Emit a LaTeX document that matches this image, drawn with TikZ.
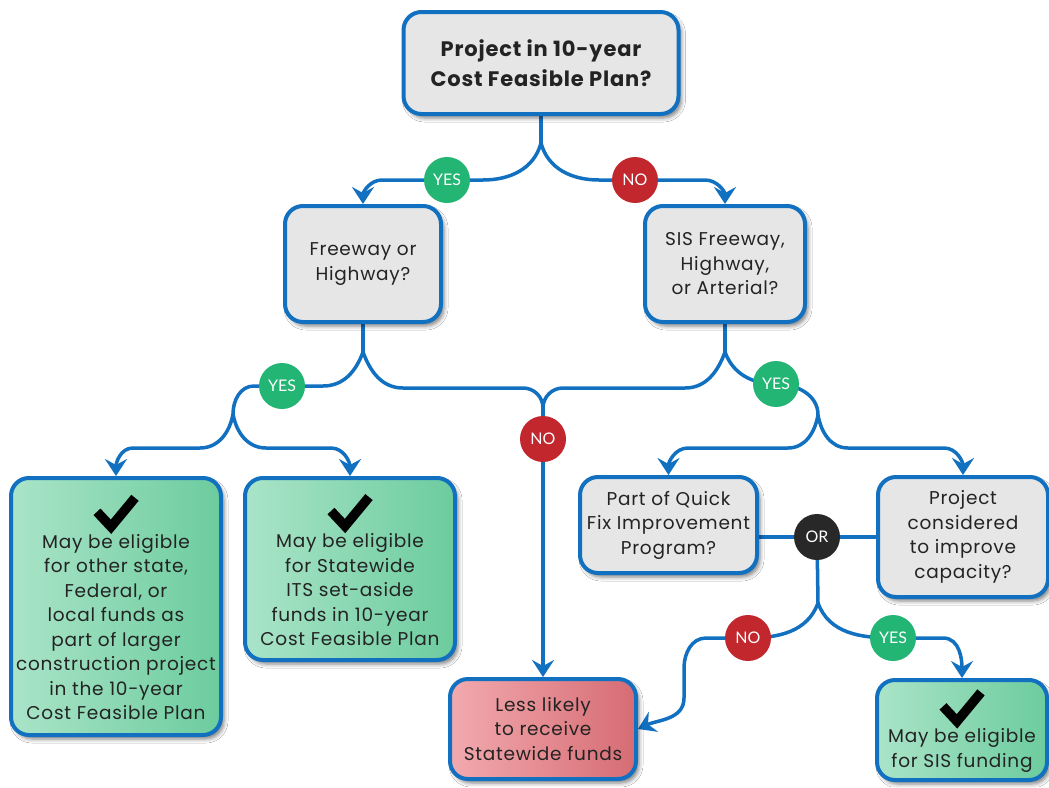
\documentclass[tikz,border=0pt]{standalone}
\usepackage{fontspec}
\setmainfont{Poppins}[LetterSpace=4]
\newfontfamily\tagfont{Lato}
\usetikzlibrary{arrows.meta,shadows.blur}

\definecolor{lineblue}{RGB}{18,112,192}
\definecolor{qgray}{RGB}{230,230,230}
\definecolor{okL}{RGB}{170,228,200}
\definecolor{okR}{RGB}{108,204,158}
\definecolor{noL}{RGB}{242,170,174}
\definecolor{noR}{RGB}{214,108,116}
\definecolor{yesgreen}{RGB}{34,181,115}
\definecolor{nored}{RGB}{193,39,45}
\definecolor{orgray}{RGB}{40,40,40}
\definecolor{ink}{RGB}{35,35,35}

\newcommand\bodyfont{\fontsize{18.5}{24.5}\selectfont}
\newcommand\headfont{\fontsize{21}{30}\selectfont\bfseries}
\newcommand\tick{\tikz[baseline=0pt,x=1pt,y=1pt]\draw[black,sharp corners,line width=9.5pt,line cap=butt,line join=miter] (0,15)--(14,0)--(38,29);}

\pgfdeclarelayer{back}
\pgfsetlayers{back,main}

\tikzset{
  basebox/.style={draw=lineblue, line width=4pt, rounded corners=18pt, align=center,
    font=\bodyfont, text=ink, inner sep=2pt,
    blur shadow={shadow xshift=3pt, shadow yshift=-4pt, shadow blur radius=4pt, shadow opacity=50}},
  qbox/.style={basebox, fill=qgray},
  okbox/.style={basebox, left color=okL, right color=okR},
  nobox/.style={basebox, left color=noL, right color=noR},
  tag/.style={circle, minimum size=46pt, inner sep=0pt, text=white,
    font=\tagfont\fontsize{16}{16}\selectfont},
  yestag/.style={tag, fill=yesgreen},
  notag/.style={tag, fill=nored},
  ortag/.style={tag, fill=orgray},
  conn/.style={draw=lineblue, line width=3.5pt},
  flow/.style={conn, -{Stealth[length=17pt,width=22pt,inset=6pt]}}
}

\begin{document}
\begin{tikzpicture}[x=1pt,y=1pt]
\useasboundingbox (0,0) rectangle (1049,-787);

% question boxes
\node[qbox, font=\headfont, minimum width=275pt, minimum height=102pt] (q0) at (541,-63)
  {Project in 10-year\\Cost Feasible Plan?};
\node[qbox, minimum width=156pt, minimum height=116pt] (fw) at (363,-264)
  {Freeway or\\Highway?};
\node[qbox, minimum width=160pt, minimum height=116pt] (sis) at (725,-264)
  {SIS Freeway,\\Highway,\\or Arterial?};
\node[qbox, minimum width=177pt, minimum height=96pt] (qf) at (668.5,-525)
  {Part of Quick\\Fix Improvement\\Program?};
\node[qbox, minimum width=170pt, minimum height=120pt] (pc) at (963,-537)
  {Project\\considered\\to improve\\capacity?};

% outcome boxes
\node[okbox, minimum width=210pt, minimum height=257pt] (g1) at (116,-606.5)
  {\tick\\[-3pt]May be eligible\\for other state,\\Federal, or\\local funds as\\part of larger\\construction project\\in the 10-year\\Cost Feasible Plan};
\node[okbox, minimum width=210pt, minimum height=182pt] (g2) at (350,-569)
  {\tick\\[-3pt]May be eligible\\for Statewide\\ITS set-aside\\funds in 10-year\\Cost Feasible Plan};
\node[nobox, minimum width=186pt, minimum height=100pt] (pk) at (543,-729)
  {Less likely\\to receive\\Statewide funds};
\node[okbox, minimum width=170pt, minimum height=100pt] (g3) at (962,-730)
  {\tick\\[-3pt]May be eligible\\for SIS funding};

% answer tags
\node[yestag] (y1) at (447,-180) {YES};
\node[notag]  (n1) at (635,-180) {NO};
\node[yestag] (y2) at (282,-386) {YES};
\node[notag]  (n2) at (543,-439) {NO};
\node[yestag] (y3) at (776,-384) {YES};
\node[ortag]  (orn) at (817,-537) {OR};
\node[notag]  (n3) at (748,-638) {NO};
\node[yestag] (y4) at (893,-638) {YES};

% branch points
\coordinate (j0) at (541,-143);
\coordinate (j1) at (363,-352);
\coordinate (j2) at (543,-408);
\coordinate (j3) at (725,-352);
\coordinate (s1) at (233,-414);
\coordinate (s2) at (818,-415);
\coordinate (s3) at (818,-603);

\begin{pgfonlayer}{back}
  \fill[white] (0,0) rectangle (1049,-787);
  % top decision
  \draw[conn] (q0.south) -- (j0);
  \draw[flow] (j0) to[out=-105,in=0] (483,-180) -- (y1.center) -- (382,-180)
    to[out=180,in=90] (fw.north);
  \draw[flow] (j0) to[out=-75,in=180] (599,-180) -- (n1.center) -- (705,-180)
    to[out=0,in=90] (sis.north);

  % freeway / highway
  \draw[conn] (fw.south) -- (j1);
  \draw[conn] (j1) to[out=-110,in=0] (323,-386) -- (y2.center) -- (254,-386)
    to[out=180,in=90] (s1);
  \draw[flow] (s1) to[out=-100,in=0] (200,-448) -- (133,-448) to[out=180,in=90] (g1.north);
  \draw[flow] (s1) to[out=-80,in=180] (266,-448) -- (331,-448) to[out=0,in=90] (g2.north);
  \draw[conn] (j1) to[out=-70,in=180] (403,-388) -- (523,-388) to[out=0,in=90] (j2);

  % SIS freeway / highway / arterial
  \draw[conn] (sis.south) -- (j3);
  \draw[conn] (j3) to[out=-110,in=0] (685,-388) -- (563,-388) to[out=180,in=90] (j2);
  \draw[flow] (j2) -- (n2.center) -- (pk.north);
  \draw[conn] (j3) to[out=-70,in=180] (y3.center) to[out=0,in=90] (s2);
  \draw[flow] (s2) to[out=-100,in=0] (788,-448) -- (688,-448) to[out=180,in=90] (qf.north);
  \draw[flow] (s2) to[out=-80,in=180] (848,-448) -- (944,-448) to[out=0,in=90] (pc.north);

  % either condition
  \draw[conn] (qf.east |- orn) -- (orn.center) -- (pc.west);
  \draw[conn] (orn.center) -- (s3);
  \draw[flow] (s3) to[out=-110,in=0] (n3.center) -- (706,-638) to[out=180,in=90] (684,-668)
    -- (684,-698) to[out=-90,in=25] (pk.east);
  \draw[flow] (s3) to[out=-70,in=180] (y4.center) -- (943,-638) to[out=0,in=90] (g3.north);
\end{pgfonlayer}
\end{tikzpicture}
\end{document}
